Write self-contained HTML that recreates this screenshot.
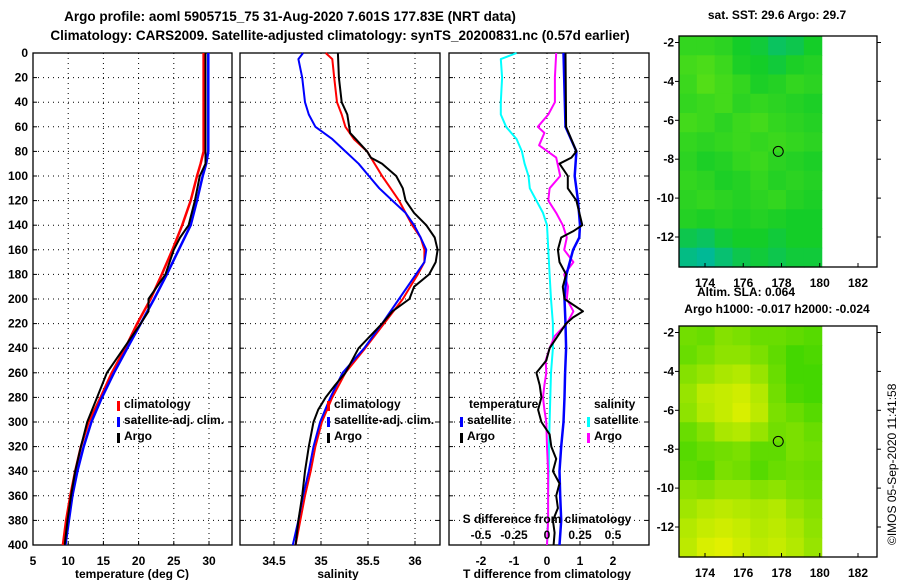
<!DOCTYPE html>
<html><head><meta charset="utf-8"><style>
body{margin:0;background:#fff;}
svg{display:block;font-family:"Liberation Sans",sans-serif;font-weight:bold;}
</style></head><body>
<svg id="fig" width="900" height="580" viewBox="0 0 900 580" xmlns="http://www.w3.org/2000/svg">
<text x="290" y="21" font-size="13.5" text-anchor="middle">Argo profile: aoml 5905715_75 31-Aug-2020 7.601S 177.83E (NRT data)</text>
<text x="340" y="40" font-size="13.5" text-anchor="middle">Climatology: CARS2009. Satellite-adjusted climatology: synTS_20200831.nc (0.57d earlier)</text>
<text x="777" y="19" font-size="12" text-anchor="middle">sat. SST: 29.6 Argo: 29.7</text>
<text x="746" y="296" font-size="12" text-anchor="middle">Altim. SLA: 0.064</text>
<text x="777" y="313" font-size="12" text-anchor="middle">Argo h1000: -0.017 h2000: -0.024</text>
<text transform="translate(896,545) rotate(-90)" font-size="12" font-weight="normal">©IMOS 05-Sep-2020 11:41:58</text>
<g id="layer"></g>
</svg>
<script>
// ---------- data ----------
const depths = [0,20,40,60,80,90,100,120,140,160,180,200,220,240,260,280,300,320,340,360,380,400];
const tClim = [29.24,29.24,29.24,29.24,29.24,28.8,28.3,27.4,26.2,24.8,23.3,21.7,19.8,18.1,16.2,14.6,12.9,11.8,11.0,10.3,9.7,9.25];
const tSat  = [29.9,29.9,29.9,29.9,29.9,29.6,29.1,28.3,27.4,25.7,24.0,22.2,20.3,18.4,16.5,14.8,13.3,12.2,11.3,10.6,10.1,9.6];
const argoTDepths = [0,90,100,120,140,150,160,180,200,210,220,240,260,280,300,320,340,360,380,400];
const tArgo = [29.5,29.5,28.7,28.0,27.1,25.9,25.0,23.8,21.4,21.4,20.3,17.9,15.5,14.1,12.7,11.8,11.0,10.4,9.9,9.5];

const sDepths = [0,5,20,40,50,60,70,80,90,100,110,120,130,140,150,160,170,180,200,220,240,260,280,300,320,340,360,380,400];
const sClim = [35.05,35.12,35.14,35.17,35.22,35.26,35.35,35.49,35.57,35.65,35.74,35.83,35.90,35.97,36.06,36.10,36.10,36.03,35.87,35.67,35.47,35.26,35.12,35.01,34.94,34.89,34.83,34.78,34.73];
const sSat  = [34.81,34.76,34.80,34.83,34.87,34.94,35.12,35.26,35.40,35.51,35.62,35.76,35.90,35.99,36.06,36.12,36.10,36.01,35.83,35.65,35.46,35.23,35.10,34.99,34.92,34.87,34.81,34.76,34.70];
const argoSDepths = [0,20,40,50,60,65,70,80,85,90,100,110,120,130,140,150,160,170,180,190,200,210,220,240,260,270,280,290,300,320,340,360,380,400];
const sArgo = [35.18,35.19,35.22,35.28,35.30,35.31,35.37,35.49,35.53,35.65,35.80,35.87,35.90,35.99,36.12,36.21,36.24,36.22,36.15,35.99,35.94,35.76,35.65,35.40,35.26,35.15,35.05,34.97,34.92,34.87,34.83,34.80,34.76,34.73];

const dTSatDepths = [0,60,80,100,120,140,150,160,180,200,220,240,260,280,300,320,340,360,380,400];
const dTSat = [0.50,0.56,0.89,0.84,0.94,1.00,0.98,0.79,0.59,0.53,0.56,0.58,0.55,0.53,0.50,0.43,0.38,0.40,0.43,0.38];
const dTArgoDepths = [0,60,80,85,90,100,110,120,140,145,150,160,170,180,190,200,210,215,220,240,250,260,270,280,290,300,310,320,330,340,350,360,370,380,390,400];
const dTArgo = [0.56,0.58,0.89,0.74,0.38,0.63,0.63,0.89,1.07,0.79,0.43,0.33,0.38,0.58,0.48,0.53,1.09,0.79,0.58,0.08,-0.02,-0.32,-0.22,-0.17,-0.27,-0.17,0.08,0.13,0.28,0.18,0.38,0.28,0.33,0.18,0.23,0.20];
const dSSatDepths = [0,5,20,40,50,60,70,80,90,100,110,120,130,140,160,180,200,220,240,260,280,300,320,340,360,380,400];
const dSSat = [-0.23,-0.35,-0.34,-0.35,-0.35,-0.31,-0.23,-0.19,-0.17,-0.14,-0.13,-0.08,-0.03,0.0,0.01,0.02,0.03,0.045,0.045,0.03,0.025,0.02,0.015,0.013,0.008,0.008,0.0];
const dSArgoDepths = [0,20,40,50,60,65,75,85,100,110,120,130,140,150,160,170,180,190,200,210,220,230,240,250,260,270,280,290,300,320,340,360,380,400];
const dSArgo = [0.07,0.06,0.06,0.01,-0.07,-0.02,-0.06,0.07,0.10,0.02,0.01,0.07,0.12,0.15,0.13,0.2,0.13,0.16,0.15,0.2,0.15,0.06,0.02,-0.01,-0.005,-0.02,-0.03,-0.02,-0.005,0.0,0.008,0.008,0.008,0.0];

const depthTicks = [0,20,40,60,80,100,120,140,160,180,200,220,240,260,280,300,320,340,360,380,400];
const tTicks = [5,10,15,20,25,30];
const sTicks = [34.5,35,35.5,36];
const dTTicks = [-2,-1,0,1,2];
const dTTickLabels = ["-2","-1","0","1","2"];
const dSTicks = [-0.5,-0.25,0,0.25,0.5];
const dSTickLabels = ["-0.5","-0.25","0","0.25","0.5"];
const lonTicks = [174,176,178,180,182];
const latTicks = [-2,-4,-6,-8,-10,-12];

// SST map grid (rows N->S, 0=teal .. 1=yellow green)
const sstGrid = [
 [0.5,0.5,0.45,0.3,0.25,0.15,0.2,0.3],
 [0.6,0.65,0.55,0.35,0.3,0.25,0.35,0.4],
 [0.55,0.7,0.6,0.5,0.35,0.4,0.5,0.45],
 [0.5,0.55,0.6,0.45,0.5,0.45,0.4,0.35],
 [0.6,0.55,0.45,0.55,0.6,0.5,0.45,0.4],
 [0.5,0.45,0.5,0.55,0.5,0.55,0.5,0.45],
 [0.45,0.35,0.4,0.5,0.55,0.45,0.4,0.35],
 [0.5,0.45,0.35,0.4,0.5,0.4,0.45,0.4],
 [0.45,0.5,0.45,0.4,0.45,0.5,0.4,0.35],
 [0.4,0.35,0.4,0.35,0.4,0.35,0.3,0.3],
 [0.2,0.15,0.25,0.3,0.3,0.25,0.3,0.3],
 [0.05,0.0,0.1,0.2,0.25,0.2,0.25,0.25]
];
const slaGrid = [
 [0.4,0.35,0.5,0.45,0.35,0.35,0.3,0.25],
 [0.35,0.45,0.55,0.55,0.45,0.3,0.15,0.2],
 [0.5,0.6,0.7,0.75,0.6,0.35,0.15,0.15],
 [0.6,0.8,0.85,0.9,0.75,0.4,0.2,0.15],
 [0.55,0.75,0.85,0.95,0.8,0.45,0.35,0.25],
 [0.35,0.5,0.7,0.75,0.6,0.4,0.45,0.35],
 [0.25,0.35,0.4,0.45,0.3,0.3,0.45,0.4],
 [0.3,0.25,0.45,0.4,0.25,0.35,0.4,0.35],
 [0.55,0.5,0.6,0.6,0.5,0.55,0.45,0.4],
 [0.65,0.75,0.8,0.75,0.7,0.75,0.6,0.5],
 [0.75,0.85,0.9,0.85,0.75,0.8,0.7,0.55],
 [0.8,0.95,1.0,0.9,0.8,0.85,0.75,0.6]
];
const floatLon = 177.83, floatLat = -7.6;

// ---------- helpers ----------
const NS = "http://www.w3.org/2000/svg";
const layer = document.getElementById("layer");
function mk(tag, attrs, parent){const e=document.createElementNS(NS,tag);for(const k in attrs)e.setAttribute(k,attrs[k]);(parent||layer).appendChild(e);return e;}
const Y0=53, Y1=545;
const yDepth = d => Y0 + (d/400)*(Y1-Y0);
function linScale(v0,p0,v1,p1){return v=>p0+(v-v0)*(p1-p0)/(v1-v0);}

function panel(name,x0,x1,xs,ticks,labels,showY){
  const g=mk("g",{});
  
  
  depthTicks.forEach(d=>{ if(d>0&&d<400){ const l=mk("line",{x1:x0,x2:x1,y1:yDepth(d),y2:yDepth(d),stroke:"#000","stroke-width":1,"stroke-dasharray":"1,4"},g);  }
    const tk=mk("line",{x1:x0,x2:x0+4,y1:yDepth(d),y2:yDepth(d),stroke:"#000"},g);
     
    const tk2=mk("line",{x1:x1-4,x2:x1,y1:yDepth(d),y2:yDepth(d),stroke:"#000"},g);
     
    if(showY){const t=mk("text",{x:x0-5,y:yDepth(d)+4,"font-size":12,"text-anchor":"end"},g);t.textContent=d;
       }
  });
  ticks.forEach((v,i)=>{const x=xs(v);
    if(x>x0+1&&x<x1-1){const l=mk("line",{x1:x,x2:x,y1:Y0,y2:Y1,stroke:"#000","stroke-dasharray":"1,4"},g);
       }
    const tk=mk("line",{x1:x,x2:x,y1:Y1-4,y2:Y1,stroke:"#000"},g);
     
    const t=mk("text",{x:x,y:565,"font-size":12,"text-anchor":"middle"},g);t.textContent=labels[i];
     
  });
  const r=mk("rect",{x:x0,y:Y0,width:x1-x0,height:Y1-Y0,fill:"none",stroke:"#000","stroke-width":1.3},g);
   
  return g;
}
function line(name,ds,vs,xs,color,w){
  const pts=ds.map((d,i)=>xs(vs[i]).toFixed(1)+","+yDepth(d).toFixed(1)).join(" ");
  const p=mk("polyline",{points:pts,fill:"none",stroke:color,"stroke-width":w,"stroke-linejoin":"round"});
  
  
}
function txt(name,x,y,s,size,anchor){const t=mk("text",{x:x,y:y,"font-size":size||12,"text-anchor":anchor||"start"});t.textContent=s;
  
  
  return t;}
function mark(name,x,y,color){const r=mk("rect",{x:x,y:y-8,width:3,height:10,fill:color});
  
  }

// ---------- panel 1: temperature ----------
const xT=linScale(5,33,30,209);
panel("temperature-panel",33,232,xT,tTicks,tTicks.map(String),true);
line("temperature-climatology-line",depths,tClim,xT,"#f00",2.5);
line("temperature-satellite-line",depths,tSat,xT,"#00f",2.5);
line("temperature-argo-line",argoTDepths,tArgo,xT,"#000",2);
txt("temperature-axis-title",132,578,"temperature (deg C)",12,"middle");
mark("legend-climatology-swatch",117,409,"#f00");txt("legend-climatology-label",124,408,"climatology");
mark("legend-satellite-swatch",117,425,"#00f");txt("legend-satellite-label",124,424,"satellite-adj. clim.");
mark("legend-argo-swatch",117,441,"#000");txt("legend-argo-label",124,440,"Argo");

// ---------- panel 2: salinity ----------
const xS=linScale(35,321,36,415);
panel("salinity-panel",240,440,xS,sTicks,sTicks.map(String),false);
line("salinity-climatology-line",sDepths,sClim,xS,"#f00",2);
line("salinity-satellite-line",sDepths,sSat,xS,"#00f",2);
line("salinity-argo-line",argoSDepths,sArgo,xS,"#000",2);
txt("salinity-axis-title",338,578,"salinity",12,"middle");
mark("legend-climatology-swatch",327,409,"#f00");txt("legend-climatology-label",334,408,"climatology");
mark("legend-satellite-swatch",327,425,"#00f");txt("legend-satellite-label",334,424,"satellite-adj. clim.");
mark("legend-argo-swatch",327,441,"#000");txt("legend-argo-label",334,440,"Argo");

// ---------- panel 3: differences ----------
const xD=linScale(0,547,2,613);
const xDS=linScale(0,547,0.5,613);
panel("difference-panel",449,649,xD,dTTicks,dTTickLabels,false);
line("salinity-satellite-diff-line",dSSatDepths,dSSat,xDS,"#0ff",2);
line("salinity-argo-diff-line",dSArgoDepths,dSArgo,xDS,"#f0f",2);
line("temperature-satellite-diff-line",dTSatDepths,dTSat,xD,"#00f",2.5);
line("temperature-argo-diff-line",dTArgoDepths,dTArgo,xD,"#000",2);
txt("difference-axis-title",547,578,"T difference from climatology",12,"middle");
txt("s-difference-axis-title",547,523,"S difference from climatology",12,"middle");
dSTicks.forEach((v,i)=>{txt("s-difference-tick-label",xDS(v),539,dSTickLabels[i],12,"middle");});
txt("legend-temperature-heading",469,408,"temperature");
mark("legend-t-satellite-swatch",460,425,"#00f");txt("legend-t-satellite-label",467,424,"satellite");
mark("legend-t-argo-swatch",460,441,"#000");txt("legend-t-argo-label",467,440,"Argo");
txt("legend-salinity-heading",594,408,"salinity");
mark("legend-s-satellite-swatch",587,425,"#0ff");txt("legend-s-satellite-label",594,424,"satellite");
mark("legend-s-argo-swatch",587,441,"#f0f");txt("legend-s-argo-label",594,440,"Argo");

// ---------- maps ----------
function lerp(a,b,t){return Math.round(a+(b-a)*t);}
function colSST(v){
  if(v<0.3){const t=v/0.3;return `rgb(${lerp(0,20,t)},${lerp(185,205,t)},${lerp(150,40,t)})`;}
  const t=(v-0.3)/0.7;return `rgb(${lerp(20,130,t)},${lerp(205,235,t)},${lerp(40,10,t)})`;
}
function colSLA(v){return `rgb(${lerp(40,225,v)},${lerp(210,240,v)},0)`;}
function map(name,top,grid,col,labelY){
  const g=mk("g",{});
  
  
  const L=679,R=877,T=top,B=top+231;
  const xl=linScale(174,705,182,858), yl=linScale(-2,T+6.5,-12,T+201);
  const dx0=L, dx1=xl(180.1);
  const rows=grid.length, cols=grid[0].length;
  const cw=(dx1-dx0)/cols, ch=(B-T)/rows;
  grid.forEach((row,i)=>row.forEach((v,j)=>{
    const c=mk("rect",{x:dx0+j*cw,y:T+i*ch,width:cw+0.6,height:ch+0.6,fill:col(v)},g);
     
  }));
  const c=mk("circle",{cx:xl(floatLon),cy:yl(floatLat),r:5,fill:"none",stroke:"#000"},g);
   
  const fr=mk("rect",{x:L,y:T,width:R-L,height:B-T,fill:"none",stroke:"#000","stroke-width":1.3},g);
   
  lonTicks.forEach(v=>{const x=xl(v);
    const tk=mk("line",{x1:x,x2:x,y1:B,y2:B-4,stroke:"#000"},g);
     
    const t=mk("text",{x:x,y:labelY,"font-size":12,"text-anchor":"middle"},g);t.textContent=v;
     });
  latTicks.forEach(v=>{const y=yl(v);
    const tk=mk("line",{x1:L-4,x2:L,y1:y,y2:y,stroke:"#000"},g);
     
    const tk2=mk("line",{x1:R,x2:R+4,y1:y,y2:y,stroke:"#000"},g);
     
    const t=mk("text",{x:L-5,y:y+4,"font-size":12,"text-anchor":"end"},g);t.textContent=v;
     });
}
map("sst-map",36,sstGrid,colSST,287);
map("sla-map",326,slaGrid,colSLA,577);
</script>
</body></html>
